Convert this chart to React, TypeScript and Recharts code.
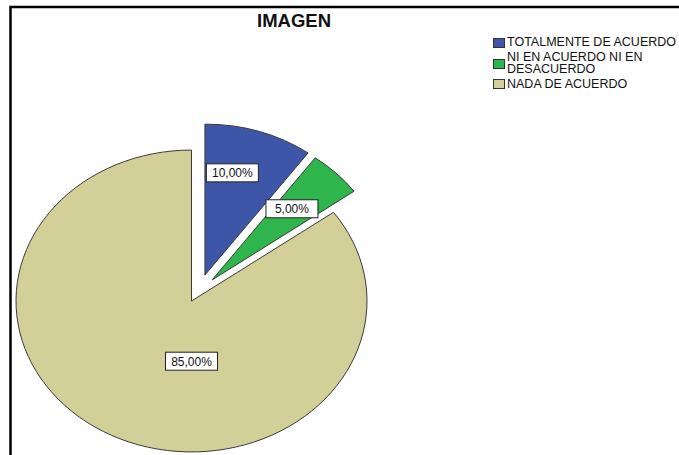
import React from 'react';
import { PieChart, Pie, Cell, Legend } from 'recharts';

// chart values
const categories = ['TOTALMENTE DE ACUERDO', 'NI EN ACUERDO NI EN DESACUERDO', 'NADA DE ACUERDO'];
const percents = [10, 5, 85];
const title = 'IMAGEN';

const colors = ['#3e56a8', '#2eb54b', '#d3cf98'];
// slice explosion: distance (px) and direction (deg)
const explode = [
  { d: 33, a: 66 },
  { d: 32, a: 50 },
  { d: 0, a: 0 },
];
// label placement relative to slice apex: radius (px) and angle (deg)
const labelPlace = [
  { r: 122, a: 77 },
  { r: 115, a: 46 },
  { r: 70, a: -90 },
];

const SQUASH = 0.86;
const FONT = "Arial, 'Liberation Sans', sans-serif";
const RAD = Math.PI / 180;

const data = categories.map((name, i) => ({ name, value: percents[i] }));

const shift = (i: number) => {
  const e = explode[i] ?? { d: 0, a: 0 };
  return {
    dx: e.d * Math.cos(e.a * RAD),
    dy: -e.d * Math.sin(e.a * RAD) * SQUASH,
  };
};

// elliptical, exploded slice
const EllipseSector = (props: any) => {
  const { cx, cy, outerRadius, startAngle, endAngle, index, fill } = props;
  const { dx, dy } = shift(index);
  const ox = cx + dx;
  const oy = cy + dy;
  const rx = outerRadius;
  const ry = outerRadius * SQUASH;
  const pt = (a: number) => [ox + rx * Math.cos(a * RAD), oy - ry * Math.sin(a * RAD)];
  const [x1, y1] = pt(startAngle);
  const [x2, y2] = pt(endAngle);
  const large = Math.abs(startAngle - endAngle) > 180 ? 1 : 0;
  const d = `M${ox},${oy} L${x1},${y1} A${rx},${ry} 0 ${large} 1 ${x2},${y2} Z`;
  return <path d={d} fill={fill || colors[index]} stroke="#3a3a3a" strokeWidth={1} />;
};

const renderLabel = (props: any) => {
  const { cx, cy, index, value } = props;
  const { dx, dy } = shift(index);
  const p = labelPlace[index];
  const x = cx + dx + p.r * Math.cos(p.a * RAD);
  const y = cy + dy - p.r * Math.sin(p.a * RAD) * SQUASH;
  const txt = value.toFixed(2).replace('.', ',') + '%';
  const w = 52;
  const h = 18;
  return (
    <g>
      <rect x={x - w / 2} y={y - h / 2} width={w} height={h} fill="#fff" stroke="#222" strokeWidth={1} />
      <text x={x} y={y + 4.5} textAnchor="middle" fontSize={12} fontFamily={FONT} fill="#111">
        {txt}
      </text>
    </g>
  );
};

const renderLegend = (props: any) => {
  const items = [...(props.payload || [])].sort(
    (a: any, b: any) => categories.indexOf(a.value) - categories.indexOf(b.value)
  );
  return (
    <div style={{ fontFamily: FONT, fontSize: 12.5, color: '#111' }}>
      {items.map((entry: any) => {
        const i = categories.indexOf(entry.value);
        return (
          <div key={entry.value} style={{ display: 'flex', alignItems: 'center', marginBottom: 3.5 }}>
            <div
              style={{
                width: 12,
                height: 10,
                background: colors[i],
                border: '1px solid #333',
                boxSizing: 'border-box',
                marginRight: 2,
                flexShrink: 0,
              }}
            />
            <div style={{ width: 180, lineHeight: '11.5px' }}>{entry.value}</div>
          </div>
        );
      })}
    </div>
  );
};

export default function App() {
  return (
    <div style={{ position: 'absolute', left: 0, top: 0, width: 679, height: 455, background: '#fff', overflow: 'hidden' }}>
      <svg width={679} height={455} style={{ position: 'absolute', left: 0, top: 0 }}>
        <rect x={10.5} y={7} width={700} height={500} fill="none" stroke="#000" strokeWidth={2.5} />
        <text x={294} y={27} textAnchor="middle" fontFamily={FONT} fontWeight="bold" fontSize={18.5} fill="#111">
          {title}
        </text>
      </svg>
      <div style={{ position: 'absolute', left: 0, top: 0 }}>
        <PieChart width={679} height={455} margin={{ top: 0, right: 0, bottom: 0, left: 0 }}>
          <Pie
            data={data}
            dataKey="value"
            nameKey="name"
            cx={191.5}
            cy={301}
            outerRadius={175.5}
            startAngle={90}
            endAngle={-270}
            shape={EllipseSector}
            label={renderLabel}
            labelLine={false}
            isAnimationActive={false}
          >
            {data.map((d, i) => (
              <Cell key={d.name} fill={colors[i]} />
            ))}
          </Pie>
          <Legend
            layout="vertical"
            content={renderLegend}
            wrapperStyle={{ position: 'absolute', left: 493, top: 37, width: 186 }}
          />
        </PieChart>
      </div>
    </div>
  );
}
